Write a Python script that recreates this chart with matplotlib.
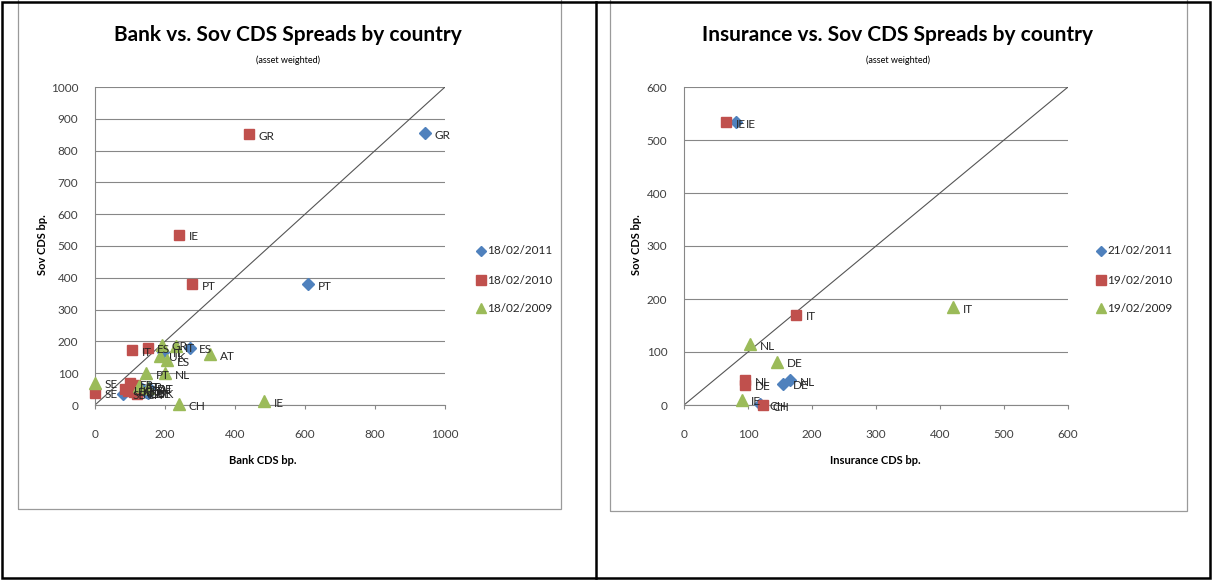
import matplotlib
matplotlib.use("Agg")
from matplotlib import pyplot as plt
from matplotlib.lines import Line2D
from matplotlib.patches import Rectangle

plt.rcParams['font.family'] = ['Lato', 'DejaVu Sans']

# left chart: bank vs sovereign CDS
bank_2011_names = ["GR", "PT", "ES", "IT", "SE", "DE", "FR", "NL", "AT", "UK", "CH"]
bank_2011_x = [943, 609, 270, 195, 80, 145, 135, 130, 155, 150, 125]
bank_2011_y = [855, 380, 180, 168, 35, 40, 50, 42, 55, 38, 38]

bank_2010_names = ["GR", "IE", "PT", "ES", "IT", "SE", "FR", "AT", "DE", "NL", "UK", "CH"]
bank_2010_x = [440, 240, 277, 150, 105, 0, 100, 115, 95, 110, 85, 120]
bank_2010_y = [852, 535, 380, 180, 173, 38, 68, 62, 45, 40, 50, 35]

bank_2009_names = ["IE", "CH", "AT", "NL", "PT", "SE", "UK", "ES", "IT", "GR", "FR", "DE"]
bank_2009_x = [483, 240, 329, 200, 145, 0, 185, 205, 230, 190, 125, 150]
bank_2009_y = [12, 3, 160, 100, 100, 70, 155, 140, 185, 190, 60, 55]

# right chart: insurance vs sovereign CDS
ins_2011_names = ["IE", "DE", "NL", "CH"]
ins_2011_x = [81, 155, 166, 119]
ins_2011_y = [534, 40, 47, 1]

ins_2010_names = ["IE", "IT", "NL", "DE", "CH"]
ins_2010_x = [66, 175, 95, 95, 123]
ins_2010_y = [534, 170, 47, 38, 0]

ins_2009_names = ["IT", "NL", "DE", "IE"]
ins_2009_x = [420, 103, 145, 90]
ins_2009_y = [185, 115, 82, 10]

bank_dates = ["18/02/2011", "18/02/2010", "18/02/2009"]
ins_dates = ["21/02/2011", "19/02/2010", "19/02/2009"]

BLUE, RED, GREEN = '#4F81BD', '#C0504D', '#9BBB59'
W, H = 1213, 581

fig = plt.figure(figsize=(W / 100, H / 100), dpi=100)


def fx(px):
    return px / W


def fy(py):
    return 1 - py / H


def draw_chart(ax, series, vmax, xstep, ystep, title, xlabel, dates, cx, xlab_x, leg_x, ylab_x):
    for (names, xs, ys), col, mk, ms in zip(series, [BLUE, RED, GREEN], ['D', 's', '^'], [6, 7.5, 8]):
        ax.plot(xs, ys, ls='none', marker=mk, color=col, markersize=ms, clip_on=False, zorder=3)
        for n, x, y in zip(names, xs, ys):
            ax.annotate(n, (x, y), xytext=(7, -4), textcoords='offset points', fontsize=8.5,
                        color='#262626', annotation_clip=False, zorder=4)
    ax.plot([0, vmax], [0, vmax], color='#555555', lw=0.8, zorder=2)
    ax.set_xlim(0, vmax)
    ax.set_ylim(0, vmax)
    ax.set_xticks(list(range(0, vmax + 1, xstep)))
    ax.set_yticks(list(range(0, vmax + 1, ystep)))
    ax.tick_params(labelsize=8.5, labelcolor='#404040', color='#878787', length=3)
    ax.tick_params(axis='x', pad=14)
    ax.tick_params(axis='y', pad=12, length=0)
    ax.grid(axis='y', color='#878787', lw=0.8)
    ax.set_axisbelow(True)
    for s in ['top', 'right']:
        ax.spines[s].set_visible(False)
    for s in ['left', 'bottom']:
        ax.spines[s].set_color('#878787')
        ax.spines[s].set_linewidth(0.8)
    ax.set_facecolor('none')

    fig.text(fx(cx), fy(35), title, ha='center', va='center', fontsize=15, fontweight='bold')
    fig.text(fx(cx), fy(60), '(asset weighted)', ha='center', va='center', fontsize=6.5)
    fig.text(fx(xlab_x), fy(461), xlabel, ha='center', va='center', fontsize=8, fontweight='bold')
    fig.text(fx(ylab_x), fy(245), 'Sov CDS bp.', ha='center', va='center', rotation=90,
             fontsize=8, fontweight='bold')

    for d, col, mk, ms, py in zip(dates, [BLUE, RED, GREEN], ['D', 's', '^'], [5, 7, 7], [251, 280, 308]):
        fig.add_artist(Line2D([fx(leg_x)], [fy(py)], marker=mk, color=col, markersize=ms, ls='none'))
        fig.text(fx(leg_x + 6), fy(py), d, ha='left', va='center', fontsize=8.5, color='#262626')


ax1 = fig.add_axes([fx(95), fy(405), fx(445) - fx(95), fy(87) - fy(405)])
draw_chart(ax1, [(bank_2011_names, bank_2011_x, bank_2011_y),
                 (bank_2010_names, bank_2010_x, bank_2010_y),
                 (bank_2009_names, bank_2009_x, bank_2009_y)],
           1000, 200, 100, 'Bank vs. Sov CDS Spreads by country', 'Bank CDS bp.', bank_dates,
           288, 263, 481, 43)

ax2 = fig.add_axes([fx(684), fy(405), fx(1068) - fx(684), fy(87) - fy(405)])
draw_chart(ax2, [(ins_2011_names, ins_2011_x, ins_2011_y),
                 (ins_2010_names, ins_2010_x, ins_2010_y),
                 (ins_2009_names, ins_2009_x, ins_2009_y)],
           600, 100, 100, 'Insurance vs. Sov CDS Spreads by country', 'Insurance CDS bp.', ins_dates,
           898, 875, 1101, 637)

# chart boxes (gray) and outer table frame (black)
fig.add_artist(Rectangle((fx(18), fy(509)), fx(561) - fx(18), fy(-5) - fy(509), fill=False,
                         ec='#9a9a9a', lw=0.9))
fig.add_artist(Rectangle((fx(610), fy(511)), fx(1187) - fx(610), fy(-5) - fy(511), fill=False,
                         ec='#9a9a9a', lw=0.9))
fig.add_artist(Rectangle((fx(2), fy(578)), fx(1210) - fx(2), fy(2) - fy(578), fill=False,
                         ec='black', lw=1.8))
fig.add_artist(Line2D([fx(596), fx(596)], [fy(2), fy(578)], color='black', lw=1.8))

fig.savefig('out.png', dpi=100)
